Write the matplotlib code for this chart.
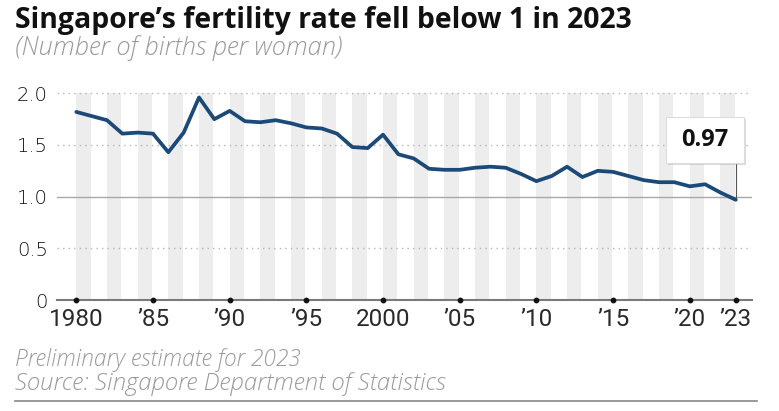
import matplotlib
matplotlib.use("Agg")
import matplotlib.pyplot as plt
from matplotlib.patches import FancyBboxPatch
import matplotlib.patheffects as pe

years = list(range(1980, 2024))
tfr = [1.82, 1.78, 1.74, 1.61, 1.62, 1.61, 1.43, 1.62, 1.96, 1.75,
       1.83, 1.73, 1.72, 1.74, 1.71, 1.67, 1.66, 1.61, 1.48, 1.47,
       1.60, 1.41, 1.37, 1.27, 1.26, 1.26, 1.28, 1.29, 1.28, 1.22,
       1.15, 1.20, 1.29, 1.19, 1.25, 1.24, 1.20, 1.16, 1.14, 1.14,
       1.10, 1.12, 1.04, 0.97]
tick_years = [1980, 1985, 1990, 1995, 2000, 2005, 2010, 2015, 2020, 2023]
tick_labels = ["1980", "’85", "’90", "’95", "2000", "’05", "’10", "’15", "’20", "’23"]
y_ticks = [0, 0.5, 1.0, 1.5, 2.0]
y_labels = ["0", "0.5", "1.0", "1.5", "2.0"]
stripe_years = list(range(1980, 2023, 2))

narrow = ["Liberation Sans Narrow", "Roboto", "DejaVu Sans"]
ylab_font = ["DejaVu Sans"]
main_font = ["Open Sans", "Lato", "DejaVu Sans"]

W, H = 779, 411
fig = plt.figure(figsize=(W / 100, H / 100), dpi=100)
renderer = fig.canvas.get_renderer()


def fit(t, target_px):
    w = t.get_window_extent(renderer=renderer).width
    t.set_fontsize(t.get_fontsize() * target_px / w)


x0, x1 = 57, 752
ax = fig.add_axes([x0 / W, 1 - 300 / H, (x1 - x0) / W, (300 - 83) / H])
ax.set_xlim(1978.74, 2024.06)
ax.set_ylim(0, 2.1)
for s in ax.spines.values():
    s.set_visible(False)
ax.set_xticks([])
ax.set_yticks([])

# stripes
ax.bar(stripe_years, [2.0] * len(stripe_years), width=0.94, align="edge",
       color="#ededed", zorder=0, linewidth=0)

# gridlines
for yv in [0.5, 1.5, 2.0]:
    ax.axhline(yv, color="#b5b5b5", lw=1.0, ls=(0, (1, 3)), zorder=1)
ax.axhline(1.0, color="#a8a8a8", lw=1.0, zorder=1)
ax.axhline(0, color="#7a7a7a", lw=1.5, zorder=3, clip_on=False)

# tick dots
ax.scatter(tick_years, [0] * len(tick_years), s=10, color="#111111", zorder=4, clip_on=False)

# line
ax.plot(years, tfr, color="#1c4a78", lw=2.7, solid_joinstyle="round",
        solid_capstyle="round", zorder=5)

# tick labels
for yr, lab in zip(tick_years, tick_labels):
    ax.annotate(lab, (yr, 0), xytext=(0, -6), textcoords="offset points",
                ha="center", va="top", fontsize=17.5, color="#2a2a2a", family=narrow)
for yv, lab in zip(y_ticks, y_labels):
    ax.annotate(lab, (1978.74, yv), xytext=(-6.5, 0), textcoords="offset points",
                ha="right", va="center_baseline", fontsize=14, color="#111111",
                family=ylab_font, fontweight="light", annotation_clip=False)

# callout
last_x, last_y = years[-1], tfr[-1]
ax.plot([last_x, last_x], [last_y, 1.33], color="#555555", lw=0.8, zorder=4)
fig.patches.append(FancyBboxPatch((666 / W, 1 - 163 / H), 78 / W, 46 / H,
                                  boxstyle="square,pad=0", transform=fig.transFigure,
                                  facecolor="white", edgecolor="#dddddd", lw=0.8,
                                  path_effects=[pe.withSimplePatchShadow(offset=(1.5, -1.5), shadow_rgbFace="#999999", alpha=0.35)],
                                  zorder=10))
fig.text(705 / W, 1 - 140 / H, f"{last_y:.2f}", ha="center", va="center",
         fontsize=17, fontweight="bold", color="#111111", family=main_font, zorder=11)

# titles
t1 = fig.text(15 / W, 1 - 28 / H, "Singapore’s fertility rate fell below 1 in 2023",
              ha="left", va="baseline", fontsize=19.5, fontweight="bold", color="#111111",
              family=main_font)
fit(t1, 617)
t2 = fig.text(15 / W, 1 - 55 / H, "(Number of births per woman)", ha="left", va="baseline",
              fontsize=13.5, style="italic", fontweight="light", color="#9a9a9a", family=main_font)
fit(t2, 328)

# footer
t3 = fig.text(15 / W, 1 - 366 / H, "Preliminary estimate for 2023", ha="left", va="baseline",
              fontsize=13, style="italic", fontweight="light", color="#9a9a9a", family=main_font)
fit(t3, 285)
t4 = fig.text(15 / W, 1 - 390 / H, "Source: Singapore Department of Statistics", ha="left",
              va="baseline", fontsize=13, style="italic", fontweight="light", color="#9a9a9a",
              family=main_font)
fit(t4, 427)
fig.add_artist(plt.Line2D([15 / W, 757 / W], [1 - 401 / H, 1 - 401 / H], color="#888888", lw=1.2))

fig.savefig("out.png", dpi=100)
